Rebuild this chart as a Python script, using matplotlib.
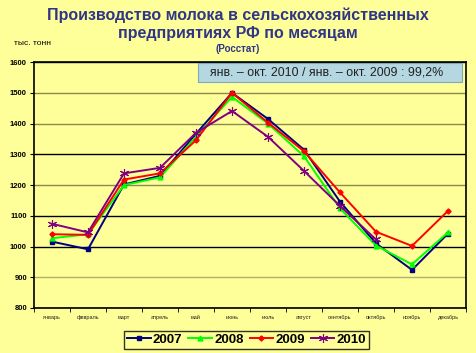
import numpy as np
import matplotlib
matplotlib.use("Agg")
import matplotlib.pyplot as plt
from matplotlib.patches import Rectangle

plt.rcParams['font.family'] = ['Liberation Sans', 'DejaVu Sans']

months = ["январь", "февраль", "март", "апрель", "май", "июнь",
          "июль", "август", "сентябрь", "октябрь", "ноябрь", "декабрь"]
years = ["2007", "2008", "2009", "2010"]
v2007 = [1016, 991, 1202, 1230, 1367, 1500, 1415, 1315, 1146, 1010, 924, 1042]
v2008 = [1027, 1040, 1200, 1225, 1357, 1487, 1400, 1294, 1124, 1003, 942, 1046]
v2009 = [1040, 1038, 1218, 1238, 1346, 1500, 1403, 1310, 1176, 1048, 1002, 1116]
v2010 = [1074, 1046, 1238, 1256, 1370, 1441, 1357, 1246, 1132, 1023]
yticks = [800, 900, 1000, 1100, 1200, 1300, 1400, 1500, 1600]

bg = "#FFFF99"
fig = plt.figure(figsize=(4.76, 3.53), dpi=100, facecolor=bg)
ax = fig.add_axes([0.0714, 0.1275, 0.9076, 0.6965], facecolor=bg)

styles = [
    dict(color="#000080", marker="s", ms=3),
    dict(color="#00FF00", marker="^", ms=3.5),
    dict(color="#FF0000", marker="D", ms=2.6),
    dict(color="#800080", marker=(6, 2, 0), ms=6.5, mew=0.8),
]
series = [v2007, v2008, v2009, v2010]
x = np.arange(12)
for y, lab, st in zip(series, years, styles):
    ax.plot(x[:len(y)], y, lw=1.4, label=lab, zorder=3, **st)

ax.set_xlim(-0.5, 11.5)
ax.set_ylim(800, 1600)
ax.set_yticks(yticks)
ax.set_yticklabels([str(t) for t in yticks], fontsize=5.5, fontweight="bold")
ax.set_xticks(x)
ax.set_xticklabels(months, fontsize=4, color="#222222")
ax.set_xticks(np.arange(-0.5, 12, 1), minor=True)
ax.tick_params(axis="x", which="major", length=0, pad=5)
ax.tick_params(axis="x", which="minor", length=3, direction="out")
ax.tick_params(axis="y", length=3, direction="out", pad=2)
ax.grid(axis="y", lw=1.0, zorder=1)
gcols = ["#000000", "#B0B070", "#000000", "#000000", "#8A8A50", "#000000",
         "#8A8A50", "#8A8A50", "#000000"]
for gl, c in zip(ax.get_ygridlines(), gcols):
    gl.set_color(c)
for s in ax.spines.values():
    s.set_linewidth(1.2)
    s.set_color("black")

tcol = "#2F3587"
fig.text(0.5, 0.957, "Производство молока в сельскохозяйственных",
         ha="center", va="center", fontsize=11.5, fontweight="bold", color=tcol)
fig.text(0.5, 0.906, "предприятиях РФ по месяцам",
         ha="center", va="center", fontsize=11.5, fontweight="bold", color=tcol)
fig.text(0.5, 0.862, "(Росстат)", ha="center", va="center", fontsize=7,
         fontweight="bold", color=tcol)
fig.text(0.03, 0.878, "тыс. тонн", ha="left", va="center", fontsize=6, color="black")

# info box
ax.add_patch(Rectangle((0.380, 0.919), 0.611, 0.076, transform=ax.transAxes,
                       fc="#B4D7E1", ec="#7FA8B8", lw=0.8, zorder=5))
ax.text(0.677, 0.957, "янв. – окт. 2010 / янв. – окт. 2009 : 99,2%",
        transform=ax.transAxes, ha="center", va="center", fontsize=8.9,
        color="#222222", zorder=6)

leg = fig.legend(loc="center", bbox_to_anchor=(0.518, 0.037), ncol=4,
                 frameon=True, fancybox=False, edgecolor="black", facecolor=bg,
                 prop=dict(size=9.5, weight="bold"), handlelength=1.8,
                 columnspacing=0.45, handletextpad=0.15, borderpad=0.25)
leg.get_frame().set_linewidth(1.0)

fig.savefig("out.png", dpi=100, facecolor=bg)
